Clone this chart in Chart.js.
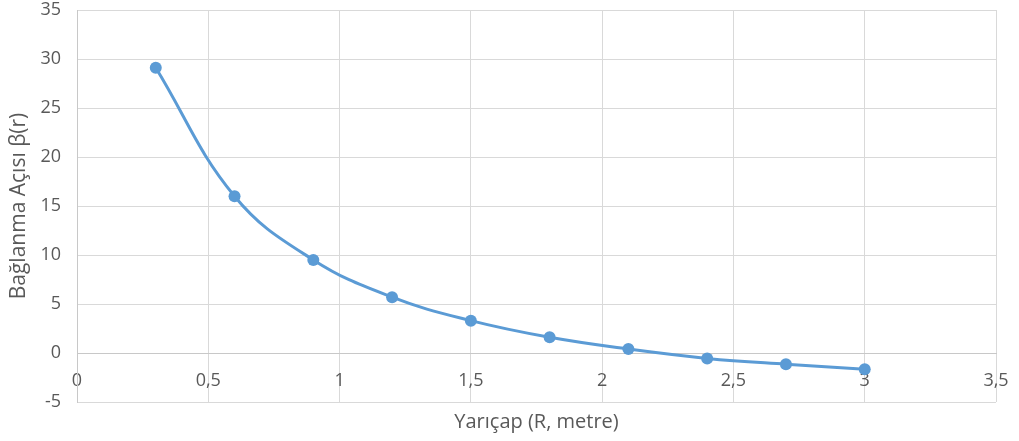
<!DOCTYPE html>
<html>
<head>
<meta charset="utf-8">
<script src="https://cdn.jsdelivr.net/npm/chart.js@4/dist/chart.umd.min.js"></script>
<style>
  html, body { margin: 0; padding: 0; background: #fff; }
  #wrap { width: 1019px; height: 441px; }
</style>
</head>
<body>
<div id="wrap"><canvas id="c" width="1019" height="441"></canvas></div>
<script>
const radius = [0.3, 0.6, 0.9, 1.2, 1.5, 1.8, 2.1, 2.4, 2.7, 3.0];
const angle = [29.1, 16.0, 9.5, 5.7, 3.3, 1.6, 0.4, -0.55, -1.15, -1.65];
const xTickValues = [0, 0.5, 1, 1.5, 2, 2.5, 3, 3.5];
const xTickLabels = ['0', '0,5', '1', '1,5', '2', '2,5', '3', '3,5'];
const yTickLabels = ['-5', '0', '5', '10', '15', '20', '25', '30', '35'];
const xTitle = 'Yarıçap (R, metre)';
const yTitle = 'Bağlanma Açısı β(r)';

const FONT = '"Open Sans", sans-serif';
const TXT = '#595959';
const GRID = '#d9d9d9';

new Chart(document.getElementById('c'), {
  type: 'scatter',
  data: {
    datasets: [{
      data: radius.map((r, i) => ({ x: r, y: angle[i] })),
      showLine: true,
      tension: 0.4,
      borderColor: '#5B9BD5',
      backgroundColor: '#5B9BD5',
      borderWidth: 3,
      pointRadius: 6,
      pointBorderWidth: 0,
      pointHoverRadius: 6
    }]
  },
  options: {
    responsive: false,
    animation: false,
    events: [],
    layout: { padding: { top: 10, right: 23, bottom: 0, left: 0 } },
    plugins: {
      legend: { display: false },
      tooltip: { enabled: false },
      title: {
        display: true,
        position: 'bottom',
        fullSize: false,
        text: xTitle,
        color: TXT,
        font: { family: FONT, size: 20, weight: 'normal', lineHeight: 1.2 },
        padding: { top: 8, bottom: 7 }
      }
    },
    scales: {
      x: {
        type: 'linear',
        min: 0, max: 3.5,
        position: { y: 0 },
        afterBuildTicks: s => { s.ticks = xTickValues.map(v => ({ value: v })); },
        afterFit: s => { s.paddingLeft = 0; s.paddingRight = 0; s.paddingTop = 0; s.paddingBottom = 0; },
        ticks: {
          color: TXT,
          font: { family: FONT, size: 18 },
          padding: 17,
          maxRotation: 0,
          callback: (v, i) => xTickLabels[i]
        },
        grid: { color: GRID, lineWidth: 1, drawTicks: false },
        border: { color: '#c8c8c8', width: 1 }
      },
      y: {
        type: 'linear',
        min: -5, max: 35,
        afterBuildTicks: s => { s.ticks = yTickLabels.map(t => ({ value: Number(t) })); },
        afterFit: s => { s.width = 77; s.paddingTop = 0; s.paddingBottom = 0; },
        ticks: {
          color: TXT,
          font: { family: FONT, size: 18 },
          padding: 16,
          callback: (v, i) => yTickLabels[i]
        },
        title: {
          display: true,
          text: yTitle,
          color: TXT,
          font: { family: FONT, size: 21, weight: 'normal', lineHeight: 1.2 },
          padding: { top: 6, bottom: 0 }
        },
        grid: { color: GRID, lineWidth: 1, drawTicks: false },
        border: { color: '#c8c8c8', width: 1 }
      }
    }
  }
});
</script>
</body>
</html>
